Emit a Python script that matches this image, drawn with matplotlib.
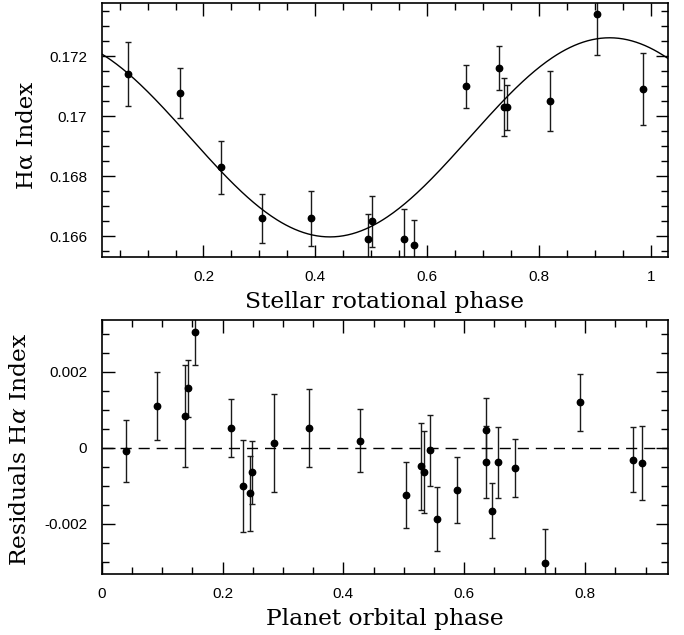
import numpy as np
import matplotlib
matplotlib.use("Agg")
import matplotlib.pyplot as plt
from matplotlib.ticker import MultipleLocator, FuncFormatter

# ---- Top panel: H-alpha index vs stellar rotational phase ----
rot_phase = [0.065, 0.158, 0.232, 0.305, 0.392, 0.495, 0.501, 0.559, 0.577,
             0.6685, 0.728, 0.738, 0.743, 0.820, 0.904, 0.986]
ha_index = [0.1714, 0.17078, 0.16829, 0.16659, 0.16659, 0.16589, 0.1665, 0.16589,
            0.16569, 0.17099, 0.17159, 0.1703, 0.1703, 0.1705, 0.17339, 0.17089]
ha_err = [0.00107, 0.00083, 0.00089, 0.00082, 0.00092, 0.00085, 0.00085, 0.0010,
          0.00085, 0.00072, 0.00073, 0.00097, 0.00075, 0.00099, 0.00136, 0.0012]

# sinusoidal fit parameters (mean, semi-amplitude, phase of maximum)
fit_mean = 0.16929
fit_amp = 0.00332
fit_phase_max = 0.926

# ---- Bottom panel: residuals vs planet orbital phase ----
orb_phase = [0.041, 0.0918, 0.138, 0.142, 0.1537, 0.214, 0.234, 0.245, 0.248,
             0.2847, 0.343, 0.4267, 0.504, 0.529, 0.533, 0.544, 0.555, 0.588,
             0.6366, 0.6366, 0.6455, 0.6554, 0.6847, 0.7338, 0.791, 0.8797, 0.895]
resid = [-0.00008, 0.0011, 0.00084, 0.00157, 0.00305, 0.00052, -0.00101, -0.0012,
         -0.00065, 0.00013, 0.00052, 0.00019, -0.00124, -0.00049, -0.00064,
         -0.00007, -0.00187, -0.00111, 0.00048, -0.00038, -0.00165, -0.00038,
         -0.00053, -0.00303, 0.0012, -0.00031, -0.0004]
resid_err = [0.00082, 0.00089, 0.00134, 0.00075, 0.00087, 0.00075, 0.00121, 0.00099,
             0.00082, 0.00129, 0.00102, 0.00082, 0.00086, 0.00114, 0.00108,
             0.00093, 0.00084, 0.00087, 0.00082, 0.00094, 0.00072, 0.00093,
             0.00076, 0.0009, 0.00075, 0.00085, 0.00097]

top_yticks = [0.166, 0.168, 0.170, 0.172]
bot_yticks = [-0.002, 0.0, 0.002]

plt.rcParams['font.family'] = ['Liberation Sans', 'DejaVu Sans']
plt.rcParams['mathtext.fontset'] = 'dejavuserif'

fig = plt.figure(figsize=(6.84, 6.35), dpi=100)
L, R = 101.7 / 684, 668.3 / 684
W = R - L
ax1 = fig.add_axes([L, 1 - 257 / 635, W, (257 - 3) / 635])
ax2 = fig.add_axes([L, 1 - 574 / 635, W, (574 - 320) / 635])

eb_kw = dict(fmt='o', color='black', ecolor='#1a1a1a', elinewidth=1.0,
             capsize=2.2, capthick=1.0, markersize=4.6)

ax1.errorbar(rot_phase, ha_index, yerr=ha_err, **eb_kw)
xx = np.linspace(0.0, 1.05, 400)
ax1.plot(xx, fit_mean + fit_amp * np.cos(2 * np.pi * (xx - fit_phase_max)),
         color='black', lw=1.0)
ax1.set_xlim(0.018, 1.031)
ax1.set_ylim(0.1653, 0.17377)
ax1.set_yticks(top_yticks)
ax1.yaxis.set_minor_locator(MultipleLocator(0.0005))
ax1.xaxis.set_major_locator(MultipleLocator(0.2))
ax1.xaxis.set_minor_locator(MultipleLocator(0.05))

ax2.errorbar(orb_phase, resid, yerr=resid_err, **eb_kw)
ax2.axhline(0, color='black', lw=1.0, ls=(0, (8, 5)))
ax2.set_xlim(0.0, 0.9377)
ax2.set_ylim(-0.00332, 0.00336)
ax2.set_yticks(bot_yticks)
ax2.yaxis.set_minor_locator(MultipleLocator(0.0005))
ax2.xaxis.set_major_locator(MultipleLocator(0.2))
ax2.xaxis.set_minor_locator(MultipleLocator(0.05))


def fmt(v, pos):
    s = ('%.3f' % v).rstrip('0').rstrip('.')
    if s in ('-0', ''):
        s = '0'
    return s


serif = ['DejaVu Serif']
for ax in (ax1, ax2):
    ax.xaxis.set_major_formatter(FuncFormatter(fmt))
    ax.yaxis.set_major_formatter(FuncFormatter(fmt))
    ax.tick_params(which='both', direction='in', top=True, right=True,
                   labelsize=11, width=1.0)
    ax.tick_params(which='major', length=9)
    ax.tick_params(which='minor', length=5)
    ax.tick_params(axis='x', which='major', pad=9.5)
    ax.tick_params(axis='y', which='major', pad=10.5)
    for s in ax.spines.values():
        s.set_linewidth(1.2)

ax1.set_xlabel('Stellar rotational phase', fontsize=16.8, family=serif, labelpad=5)
ax1.set_ylabel('Hα Index', fontsize=16.5, family=serif)
ax2.set_xlabel('Planet orbital phase', fontsize=16.8, family=serif, labelpad=5)
ax2.set_ylabel(r'Residuals H$\alpha$ Index', fontsize=16.8, family=serif)
ax1.yaxis.set_label_coords((38 - 101.7) / (W * 684), 0.478)
ax2.yaxis.set_label_coords((31 - 101.7) / (W * 684), 0.49)

fig.savefig('out.png', dpi=100)
